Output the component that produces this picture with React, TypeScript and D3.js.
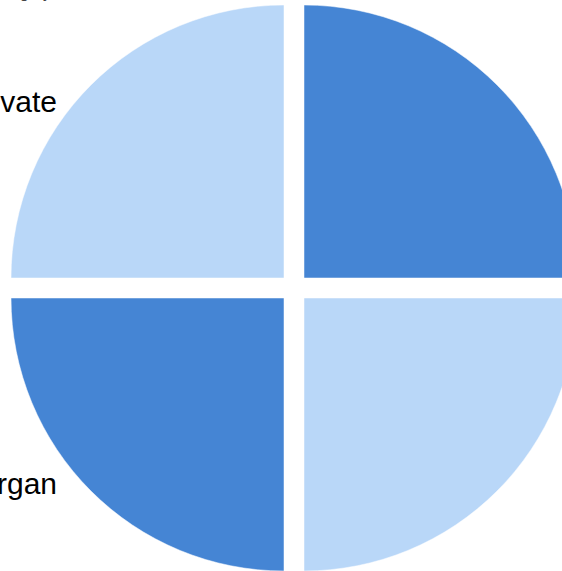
import React from "react";
import * as d3 from "d3";

const categories = ["A", "B", "Morgan", "Private"];
const values = [25, 25, 25, 25];
const colors = ["#4585d4", "#b9d7f8", "#4585d4", "#b9d7f8"];
const labels = [
  { text: "Private", x: 57, y: 112 },
  { text: "Morgan", x: 57, y: 494 },
];

export default function App() {
  const W = 562;
  const H = 571;
  const cx = 294;
  const cy = 288;
  const R = 273;
  const offset = 14.14;
  const pie = d3.pie<number>().sort(null).value((d) => d);
  const arcs = pie(values);
  const arc = d3.arc<d3.PieArcDatum<number>>().innerRadius(0).outerRadius(R);
  return (
    <svg
      width={W}
      height={H}
      style={{ position: "absolute", left: 0, top: 0 }}
      fontFamily="'Liberation Sans', Arial, sans-serif"
    >
      <rect width={W} height={H} fill="#fff" />
      <g transform={`translate(${cx},${cy})`}>
        {arcs.map((a, i) => {
          const mid = (a.startAngle + a.endAngle) / 2;
          const dx = Math.sin(mid) * offset;
          const dy = -Math.cos(mid) * offset;
          return (
            <path
              key={categories[i]}
              d={arc(a) || ""}
              transform={`translate(${dx},${dy})`}
              fill={colors[i]}
              stroke="#ffffff"
              strokeWidth={0.5}
            />
          );
        })}
      </g>
      {labels.map((l) => (
        <text key={l.text} x={l.x} y={l.y} fontSize={30} textAnchor="end" fill="#000">
          {l.text}
        </text>
      ))}
      <text x={-14} y={-2} fontSize={16} fill="#444">Category</text>
    </svg>
  );
}
